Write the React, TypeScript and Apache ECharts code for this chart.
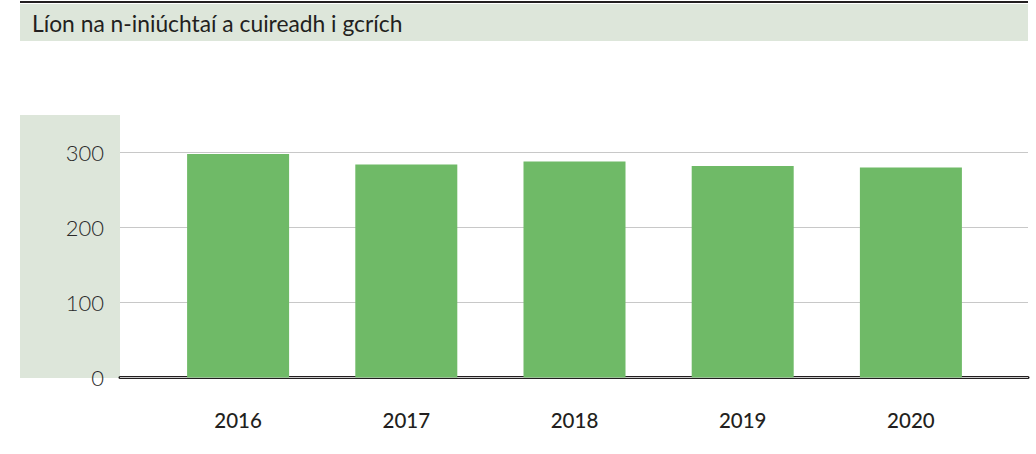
import React, { useEffect, useRef } from "react";
import * as echarts from "echarts";

const title = "Líon na n-iniúchtaí a cuireadh i gcrích";
const years = ["2016", "2017", "2018", "2019", "2020"];
const audits = [298, 284, 288, 282, 280];
const yTicks = [0, 100, 200, 300];

const W = 1036;
const H = 454;
const BAND = "#dde6da";
const DARK = "#231f20";
const BAR = "#6fba67";
const FONT = "Lato, 'Open Sans', sans-serif";

export default function App() {
  const ref = useRef<HTMLDivElement>(null);
  useEffect(() => {
    if (!ref.current) return;
    const chart = echarts.init(ref.current, null, { renderer: "svg" });
    const yMax = yTicks[yTicks.length - 1];
    const top = 152.5;
    const bottom = H - 377.5;
    chart.setOption({
      animation: false,
      backgroundColor: "#ffffff",
      graphic: [
        { type: "rect", shape: { x: 20, y: 4, width: 1008, height: 37 }, style: { fill: BAND }, z: 0 },
        { type: "line", shape: { x1: 20, y1: 2, x2: 1028, y2: 2 }, style: { stroke: DARK, lineWidth: 2 }, z: 1 },
        {
          type: "text",
          x: 32,
          y: 23,
          style: { text: title, fill: DARK, font: `400 22.8px ${FONT}`, textVerticalAlign: "middle" },
          z: 2,
        },
        { type: "rect", shape: { x: 20, y: 115, width: 100, height: 263 }, style: { fill: BAND }, z: 0 },
      ],
      grid: [
        { left: 120, right: W - 1028, top, bottom, containLabel: false },
        { left: 154, right: W - 995, top, bottom, containLabel: false },
      ],
      xAxis: [
        {
          gridIndex: 0,
          type: "value",
          min: 0,
          max: 1,
          axisLine: { show: true, onZero: false, lineStyle: { color: DARK, width: 3 } },
          axisTick: { show: false },
          axisLabel: { show: false },
          splitLine: { show: false },
        },
        {
          gridIndex: 1,
          type: "category",
          data: years,
          axisLine: { show: false },
          axisTick: { show: false },
          axisLabel: { color: DARK, fontSize: 20.5, fontWeight: 500, fontFamily: FONT, margin: 32 },
          splitLine: { show: false },
        },
      ],
      yAxis: [
        {
          gridIndex: 0,
          type: "value",
          min: 0,
          max: yMax,
          interval: 100,
          axisLine: { show: false },
          axisTick: { show: false },
          axisLabel: { color: "#2a2a2a", fontSize: 22, fontWeight: 300, fontFamily: FONT, margin: 16 },
          splitLine: { show: true, lineStyle: { color: "#c8c8c8", width: 1 } },
          z: 1,
        },
        {
          gridIndex: 1,
          type: "value",
          min: 0,
          max: yMax,
          interval: 100,
          axisLine: { show: false },
          axisTick: { show: false },
          axisLabel: { show: false },
          splitLine: { show: false },
        },
      ],
      series: [
        {
          type: "bar",
          xAxisIndex: 1,
          yAxisIndex: 1,
          data: audits,
          barWidth: 102,
          itemStyle: { color: BAR },
          z: 2,
        },
      ],
    });
    return () => chart.dispose();
  }, []);
  return <div ref={ref} style={{ position: "fixed", left: 0, top: 0, width: W, height: H }} />;
}
